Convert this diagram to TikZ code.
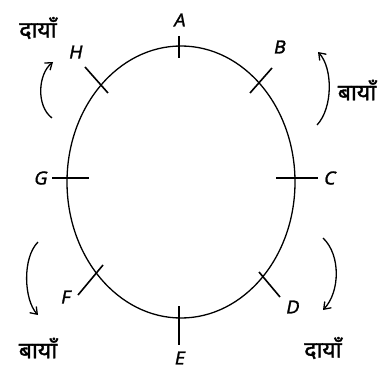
\documentclass[tikz,border=0pt]{standalone}
\usepackage{fontspec}
\setmainfont{Noto Sans}
\newfontfamily\hand[FakeSlant=0.2, FakeBold=1.5]{Noto Sans}
\newfontfamily\deva[Script=Devanagari, FakeBold=1.5]{Noto Sans}
\usetikzlibrary{arrows.meta}
\tikzset{
    bahn/.style     = {line width=1.3pt},
    marke/.style    = {line width=1.6pt},
    buchst/.style   = {font=\hand\fontsize{18}{20}\selectfont, inner sep=1pt},
    dreh/.style     = {line width=1.3pt, -{Straight Barb[length=2.2mm, width=3.2mm]}},
    wort/.style     = {font=\deva\fontsize{23}{26}\selectfont, inner sep=1pt}
}

\begin{document}
\begin{tikzpicture}[x=1pt, y=-1pt]
    \useasboundingbox (0,0) rectangle (390,371);

    % --- Bahn ---
    \draw[bahn] (181,182) ellipse [x radius=114, y radius=136];

    % --- Marken ---
    \draw[marke] (179,36) -- (179,58);
    \draw[marke] (250,93) -- (272,68);
    \draw[marke] (276,178) -- (318,178);
    \draw[marke] (259,272) -- (280,297);
    \draw[marke] (179,306) -- (179,345);
    \draw[marke] (78,295) -- (103,265);
    \draw[marke] (52,178) -- (89,178);
    \draw[marke] (85,67) -- (108,93);

    \node[buchst] (A) at (179,20)  {A};
    \node[buchst] (B) at (279,47)  {B};
    \node[buchst] (C) at (329,178) {C};
    \node[buchst] (D) at (292,307) {D};
    \node[buchst] (E) at (179,358) {E};
    \node[buchst] (F) at (65,297)  {F};
    \node[buchst] (G) at (40,178)  {G};
    \node[buchst] (H) at (75,52)   {H};

    % --- Drehrichtungen ---
    \node[wort] (w1) at (38,28)   {दायाँ};
    \node[wort] (w2) at (357,90)  {बायाँ};
    \node[wort] (w3) at (38,348)  {बायाँ};
    \node[wort] (w4) at (323,348) {दायाँ};

    \coordinate (p1a) at (52,118);  \coordinate (p1b) at (53,62);
    \coordinate (p2a) at (317,125); \coordinate (p2b) at (318,52);
    \coordinate (p3a) at (38,242);  \coordinate (p3b) at (38,315);
    \coordinate (p4a) at (323,238); \coordinate (p4b) at (323,310);

    \draw[dreh] (p1a) .. controls (36,106) and (38,74) .. (p1b);
    \draw[dreh] (p2a) .. controls (333,108) and (333,68) .. (p2b);
    \draw[dreh] (p3a) .. controls (22,258) and (24,300) .. (p3b);
    \draw[dreh] (p4a) .. controls (341,255) and (340,292) .. (p4b);
\end{tikzpicture}
\end{document}
